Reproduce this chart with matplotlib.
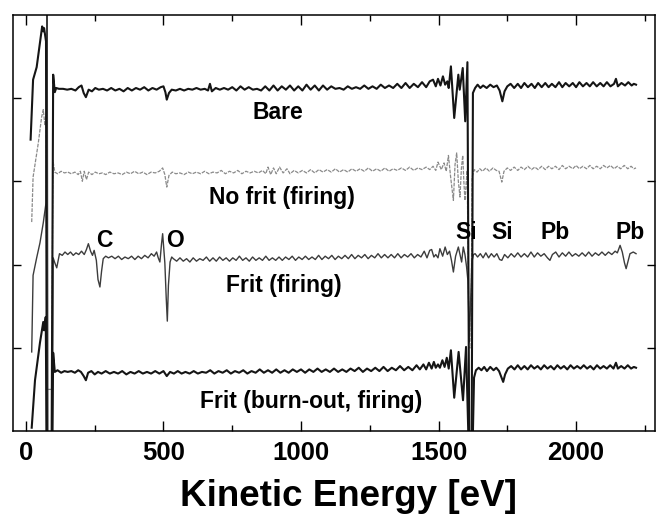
import matplotlib
matplotlib.use("Agg")
import matplotlib.pyplot as plt
from matplotlib.ticker import MultipleLocator

plt.rcParams['font.family'] = ['Liberation Sans', 'DejaVu Sans']
plt.rcParams['font.weight'] = 'bold'

# AES spectra (derivative mode), each one offset for display: (energy eV, signal a.u.)
bare = [(17, 3.50), (26, 4.22), (39, 4.37), (59, 4.86), (63, 4.80), (66, 4.84), (73, 4.68), (76, -0.5), (93, -0.5),
        (99, 4.28), (105, 4.07), (110, 4.12), (120, 4.11), (135, 4.11), (150, 4.10), (165, 4.11), (180, 4.09),
        (192, 4.13), (202, 4.15), (210, 4.06), (218, 4.01), (228, 4.10), (240, 4.08), (252, 4.12), (265, 4.10),
        (280, 4.11), (295, 4.09), (310, 4.12), (325, 4.09), (340, 4.11), (355, 4.08), (370, 4.12), (385, 4.09),
        (400, 4.12), (415, 4.10), (430, 4.13), (445, 4.09), (460, 4.12), (475, 4.10), (490, 4.13), (500, 4.14),
        (507, 4.07), (512, 3.98), (520, 4.06), (530, 4.10), (545, 4.09), (560, 4.11), (575, 4.09), (590, 4.11),
        (605, 4.10), (620, 4.12), (635, 4.10), (650, 4.11), (662, 4.09), (669, 4.17), (676, 4.08), (690, 4.12),
        (705, 4.10), (720, 4.12), (735, 4.10), (750, 4.13), (765, 4.09), (780, 4.14), (795, 4.10), (810, 4.13),
        (825, 4.10), (840, 4.11), (855, 4.09), (870, 4.14), (885, 4.09), (900, 4.15), (915, 4.09), (930, 4.14),
        (945, 4.10), (960, 4.15), (975, 4.09), (990, 4.14), (1005, 4.09), (1020, 4.16), (1035, 4.10), (1050, 4.15),
        (1065, 4.09), (1080, 4.15), (1095, 4.10), (1110, 4.14), (1125, 4.11), (1140, 4.12), (1155, 4.10),
        (1170, 4.14), (1185, 4.11), (1200, 4.13), (1215, 4.11), (1230, 4.15), (1245, 4.11), (1260, 4.14),
        (1275, 4.11), (1290, 4.16), (1305, 4.12), (1320, 4.15), (1335, 4.12), (1350, 4.17), (1365, 4.12),
        (1380, 4.18), (1395, 4.12), (1410, 4.17), (1425, 4.13), (1440, 4.19), (1455, 4.13), (1468, 4.20),
        (1480, 4.22), (1490, 4.14), (1498, 4.23), (1507, 4.15), (1516, 4.26), (1524, 4.16), (1532, 4.20),
        (1537, 4.12), (1545, 4.38), (1557, 3.76), (1572, 4.28), (1577, 4.10), (1588, 4.36), (1597, 3.72),
        (1605, 4.43), (1612, -0.5), (1620, -0.5), (1625, 4.06), (1633, 4.12), (1642, 4.16), (1652, 4.12),
        (1662, 4.15), (1675, 4.12), (1688, 4.16), (1700, 4.13), (1712, 4.15), (1722, 4.09), (1732, 3.96),
        (1740, 4.08), (1750, 4.14), (1762, 4.17), (1775, 4.12), (1788, 4.17), (1800, 4.12), (1812, 4.18),
        (1825, 4.13), (1838, 4.17), (1850, 4.12), (1862, 4.18), (1875, 4.13), (1888, 4.18), (1900, 4.13),
        (1912, 4.17), (1925, 4.13), (1938, 4.19), (1950, 4.13), (1962, 4.18), (1975, 4.14), (1988, 4.18),
        (2000, 4.13), (2012, 4.19), (2025, 4.14), (2038, 4.18), (2050, 4.14), (2062, 4.19), (2075, 4.14),
        (2088, 4.18), (2100, 4.14), (2112, 4.19), (2125, 4.14), (2138, 4.17), (2145, 4.23), (2152, 4.14),
        (2165, 4.18), (2178, 4.15), (2190, 4.19), (2202, 4.15), (2210, 4.17), (2218, 4.16)]

no_frit = [(21, 2.51), (26, 3.05), (45, 3.46), (57, 3.77), (63, 3.86), (69, 3.67), (73, 3.80), (77, 0.5), (94, 0.5),
           (98, 3.25), (105, 3.11), (115, 3.09), (128, 3.12), (140, 3.10), (152, 3.11), (165, 3.09), (178, 3.11),
           (190, 3.08), (198, 3.12), (205, 3.00), (212, 3.12), (220, 3.02), (228, 3.11), (240, 3.08), (252, 3.11),
           (265, 3.09), (278, 3.10), (290, 3.08), (305, 3.11), (320, 3.09), (335, 3.10), (350, 3.08), (365, 3.11),
           (380, 3.09), (395, 3.12), (410, 3.09), (425, 3.11), (440, 3.08), (455, 3.11), (470, 3.10), (485, 3.12),
           (497, 3.16), (505, 3.08), (512, 2.93), (520, 3.07), (532, 3.11), (545, 3.09), (560, 3.10), (575, 3.08),
           (590, 3.11), (605, 3.09), (620, 3.11), (635, 3.09), (650, 3.12), (665, 3.09), (680, 3.11), (695, 3.10),
           (710, 3.13), (725, 3.09), (740, 3.12), (755, 3.10), (770, 3.13), (785, 3.09), (800, 3.12), (815, 3.10),
           (830, 3.12), (845, 3.10), (860, 3.13), (872, 3.09), (880, 3.17), (890, 3.08), (900, 3.16), (910, 3.09),
           (922, 3.17), (935, 3.10), (949, 3.15), (960, 3.09), (975, 3.13), (990, 3.10), (1005, 3.13), (1020, 3.10),
           (1035, 3.14), (1050, 3.10), (1065, 3.14), (1080, 3.11), (1095, 3.14), (1110, 3.11), (1125, 3.15),
           (1140, 3.11), (1155, 3.14), (1170, 3.11), (1185, 3.15), (1200, 3.12), (1215, 3.15), (1230, 3.12),
           (1245, 3.16), (1260, 3.12), (1275, 3.15), (1290, 3.12), (1305, 3.16), (1320, 3.12), (1335, 3.15),
           (1350, 3.13), (1365, 3.16), (1380, 3.13), (1395, 3.17), (1410, 3.13), (1425, 3.16), (1440, 3.14),
           (1455, 3.17), (1468, 3.14), (1480, 3.18), (1490, 3.13), (1498, 3.23), (1510, 3.14), (1520, 3.22),
           (1528, 3.12), (1536, 3.31), (1544, 3.05), (1554, 2.77), (1560, 3.20), (1566, 3.34), (1572, 3.00),
           (1578, 2.81), (1583, 3.15), (1588, 3.31), (1592, 3.00), (1596, 2.77), (1604, 3.13), (1611, 1.0),
           (1618, 1.0), (1622, 3.05), (1630, 3.14), (1640, 3.11), (1650, 3.15), (1660, 3.12), (1672, 3.16),
           (1685, 3.12), (1698, 3.16), (1710, 3.13), (1720, 3.12), (1730, 2.99), (1738, 3.12), (1750, 3.16),
           (1762, 3.13), (1775, 3.17), (1788, 3.13), (1800, 3.17), (1812, 3.14), (1825, 3.18), (1838, 3.14),
           (1850, 3.17), (1862, 3.14), (1875, 3.18), (1888, 3.14), (1900, 3.18), (1912, 3.15), (1925, 3.18),
           (1938, 3.14), (1950, 3.19), (1962, 3.15), (1975, 3.18), (1988, 3.15), (2000, 3.19), (2012, 3.15),
           (2025, 3.18), (2038, 3.15), (2050, 3.19), (2062, 3.15), (2075, 3.18), (2088, 3.15), (2100, 3.19),
           (2112, 3.16), (2125, 3.19), (2138, 3.15), (2150, 3.18), (2162, 3.15), (2175, 3.19), (2188, 3.15),
           (2200, 3.18), (2210, 3.15), (2218, 3.16)]

frit_firing = [(21, 0.95), (26, 1.87), (39, 2.08), (51, 2.26), (63, 2.50), (73, 2.74), (77, 5.5), (80, -0.5),
               (96, -0.5), (99, 2.08), (105, 2.02), (112, 1.96), (122, 2.13), (132, 2.11), (142, 2.15), (152, 2.12),
               (162, 2.15), (172, 2.11), (182, 2.14), (192, 2.12), (202, 2.16), (212, 2.12), (220, 2.18), (227, 2.25),
               (235, 2.16), (242, 2.11), (248, 2.17), (256, 2.05), (262, 1.82), (269, 1.73), (275, 1.92), (281, 2.07),
               (290, 2.10), (300, 2.08), (312, 2.10), (324, 2.07), (336, 2.10), (348, 2.06), (360, 2.09), (372, 2.07),
               (384, 2.10), (396, 2.06), (408, 2.10), (420, 2.07), (432, 2.11), (444, 2.08), (456, 2.13), (466, 2.10),
               (475, 2.15), (481, 2.08), (487, 2.03), (493, 2.25), (497, 2.37), (501, 2.20), (505, 2.02), (510, 1.60),
               (514, 1.32), (518, 1.75), (524, 2.03), (530, 2.09), (536, 2.07), (548, 2.04), (560, 2.08), (572, 2.04),
               (584, 2.07), (596, 2.03), (608, 2.08), (620, 2.04), (632, 2.07), (644, 2.05), (656, 2.09), (668, 2.04),
               (680, 2.08), (692, 2.04), (704, 2.09), (716, 2.05), (728, 2.08), (740, 2.04), (752, 2.08), (764, 2.05),
               (776, 2.10), (788, 2.05), (800, 2.08), (812, 2.04), (824, 2.09), (836, 2.05), (848, 2.08), (860, 2.05),
               (872, 2.10), (884, 2.05), (896, 2.08), (908, 2.05), (920, 2.09), (932, 2.05), (944, 2.09), (956, 2.06),
               (968, 2.10), (980, 2.05), (992, 2.09), (1004, 2.06), (1016, 2.10), (1028, 2.06), (1040, 2.09),
               (1052, 2.06), (1064, 2.11), (1076, 2.06), (1088, 2.10), (1100, 2.07), (1112, 2.11), (1124, 2.06),
               (1136, 2.10), (1148, 2.07), (1160, 2.11), (1172, 2.07), (1184, 2.12), (1196, 2.07), (1208, 2.11),
               (1220, 2.08), (1232, 2.12), (1244, 2.07), (1256, 2.11), (1268, 2.08), (1280, 2.13), (1292, 2.08),
               (1304, 2.12), (1316, 2.08), (1328, 2.12), (1340, 2.08), (1352, 2.13), (1364, 2.08), (1376, 2.12),
               (1388, 2.09), (1400, 2.13), (1412, 2.08), (1424, 2.12), (1436, 2.09), (1448, 2.16), (1458, 2.08),
               (1468, 2.17), (1475, 2.18), (1483, 2.09), (1490, 2.12), (1498, 2.08), (1505, 2.19), (1515, 2.10),
               (1524, 2.21), (1532, 2.12), (1540, 2.16), (1547, 2.05), (1554, 1.91), (1562, 2.10), (1572, 2.21),
               (1578, 2.12), (1584, 2.03), (1590, 2.21), (1596, 2.12), (1602, 1.97), (1607, 1.80), (1612, 1.07),
               (1617, 1.60), (1621, 2.03), (1627, 2.12), (1633, 2.13), (1642, 2.09), (1652, 2.13), (1662, 2.08),
               (1672, 2.14), (1682, 2.08), (1692, 2.13), (1702, 2.09), (1712, 2.13), (1722, 2.06), (1730, 2.05),
               (1740, 2.12), (1752, 2.08), (1764, 2.13), (1776, 2.09), (1788, 2.14), (1800, 2.09), (1812, 2.13),
               (1824, 2.09), (1836, 2.15), (1848, 2.09), (1860, 2.14), (1872, 2.10), (1884, 2.13), (1896, 2.08),
               (1905, 2.05), (1914, 2.12), (1926, 2.15), (1938, 2.09), (1950, 2.14), (1962, 2.10), (1974, 2.15),
               (1986, 2.10), (1998, 2.13), (2010, 2.10), (2022, 2.14), (2034, 2.10), (2046, 2.15), (2058, 2.10),
               (2070, 2.14), (2082, 2.11), (2094, 2.15), (2106, 2.11), (2118, 2.15), (2130, 2.12), (2142, 2.16),
               (2150, 2.14), (2160, 2.23), (2168, 2.15), (2176, 2.02), (2182, 1.95), (2190, 2.05), (2196, 2.13),
               (2208, 2.15), (2218, 2.13)]

burn_out = [(21, 0.04), (33, 0.61), (51, 1.06), (63, 1.31), (66, 1.21), (72, 1.37), (76, -0.5), (95, -0.5),
            (99, 0.94), (105, 0.71), (115, 0.73), (128, 0.70), (140, 0.72), (152, 0.71), (165, 0.72), (178, 0.70),
            (190, 0.73), (200, 0.71), (210, 0.66), (218, 0.61), (226, 0.70), (238, 0.72), (250, 0.68), (262, 0.71),
            (275, 0.69), (290, 0.72), (305, 0.69), (320, 0.71), (335, 0.69), (350, 0.72), (365, 0.68), (380, 0.71),
            (395, 0.69), (410, 0.72), (425, 0.69), (440, 0.71), (455, 0.69), (470, 0.72), (485, 0.69), (500, 0.72),
            (512, 0.66), (524, 0.71), (538, 0.69), (552, 0.72), (566, 0.69), (580, 0.71), (595, 0.69), (610, 0.72),
            (625, 0.69), (640, 0.71), (655, 0.70), (670, 0.73), (685, 0.69), (700, 0.72), (715, 0.70), (730, 0.73),
            (745, 0.69), (760, 0.72), (775, 0.70), (790, 0.73), (805, 0.69), (820, 0.72), (835, 0.70), (850, 0.74),
            (865, 0.70), (880, 0.73), (895, 0.70), (910, 0.74), (925, 0.70), (940, 0.73), (955, 0.70), (970, 0.74),
            (985, 0.71), (1000, 0.74), (1015, 0.70), (1030, 0.74), (1045, 0.71), (1060, 0.75), (1075, 0.71),
            (1090, 0.74), (1105, 0.71), (1120, 0.75), (1135, 0.71), (1150, 0.74), (1165, 0.71), (1180, 0.75),
            (1195, 0.72), (1210, 0.76), (1225, 0.71), (1240, 0.75), (1255, 0.72), (1270, 0.76), (1285, 0.72),
            (1300, 0.77), (1315, 0.72), (1330, 0.76), (1345, 0.73), (1360, 0.78), (1375, 0.73), (1390, 0.77),
            (1405, 0.73), (1420, 0.79), (1432, 0.74), (1445, 0.80), (1455, 0.74), (1465, 0.82), (1475, 0.75),
            (1483, 0.83), (1490, 0.76), (1498, 0.80), (1505, 0.76), (1514, 0.85), (1522, 0.77), (1530, 0.88),
            (1537, 0.75), (1545, 0.97), (1557, 0.40), (1573, 0.95), (1589, 0.37), (1600, 1.01), (1612, -0.5),
            (1622, -0.5), (1629, 0.64), (1636, 0.73), (1646, 0.76), (1656, 0.73), (1666, 0.77), (1676, 0.72),
            (1688, 0.77), (1700, 0.73), (1710, 0.76), (1720, 0.72), (1728, 0.65), (1735, 0.59), (1742, 0.68),
            (1752, 0.75), (1764, 0.78), (1776, 0.74), (1788, 0.79), (1800, 0.74), (1812, 0.78), (1824, 0.74),
            (1836, 0.79), (1848, 0.75), (1860, 0.78), (1872, 0.74), (1884, 0.79), (1896, 0.75), (1908, 0.78),
            (1920, 0.74), (1932, 0.79), (1944, 0.75), (1956, 0.78), (1968, 0.74), (1980, 0.79), (1992, 0.75),
            (2004, 0.78), (2016, 0.75), (2028, 0.79), (2040, 0.75), (2052, 0.78), (2064, 0.74), (2076, 0.79),
            (2088, 0.75), (2100, 0.78), (2112, 0.75), (2124, 0.79), (2136, 0.75), (2145, 0.82), (2152, 0.75),
            (2164, 0.78), (2176, 0.75), (2188, 0.79), (2200, 0.75), (2210, 0.77), (2218, 0.76)]

spectrum_names = ['Bare', 'No frit (firing)', 'Frit (firing)', 'Frit (burn-out, firing)']
element_labels = ['C', 'O', 'Si', 'Si', 'Pb', 'Pb']
element_ev = [284, 542, 1601, 1731, 1925, 2195]

fig = plt.figure(figsize=(6.56, 5.17), dpi=100)
ax = fig.add_axes([0.0194, 0.1663, 0.9791, 0.8052])

ev, sig = zip(*no_frit)
ax.plot(ev, sig, color='#8a8a8a', lw=0.9, ls=(0, (3, 1)))
ev, sig = zip(*frit_firing)
ax.plot(ev, sig, color='#3c3c3c', lw=1.0)
for spec in (bare, burn_out):
    ev, sig = zip(*spec)
    ax.plot(ev, sig, color='#151515', lw=1.5)

ax.set_xlim(-48, 2287)
ax.set_ylim(0, 5)

# curve names and element markers
name_pos = [(915, 3.83), (929, 2.80), (938, 1.75), (1038, 0.35)]
for name, (xe, yv) in zip(spectrum_names, name_pos):
    ax.text(xe, yv, name, ha='center', va='center', fontsize=16.5, fontweight='bold')
for lab, xe in zip(element_labels, element_ev):
    yv = 2.29 if lab in ('C', 'O') else 2.38
    ax.text(xe, yv, lab, ha='center', va='center', fontsize=16.5, fontweight='bold')

ax.xaxis.set_major_locator(MultipleLocator(500))
ax.xaxis.set_minor_locator(MultipleLocator(250))
ax.set_yticks([1, 2, 3, 4])
ax.tick_params(axis='both', which='both', direction='in', top=True, right=True, width=1.0)
ax.tick_params(axis='x', which='major', length=7, pad=7, labelsize=18.5)
ax.tick_params(axis='x', which='minor', length=4)
ax.tick_params(axis='y', length=6, labelleft=False)
for lab in ax.get_xticklabels():
    lab.set_fontweight('bold')
for sp in ax.spines.values():
    sp.set_linewidth(1.1)

ax.set_xlabel('Kinetic Energy [eV]', fontsize=26.5, fontweight='bold')
ax.xaxis.set_label_coords(0.523, -0.116)

fig.savefig('out.png', dpi=100)
